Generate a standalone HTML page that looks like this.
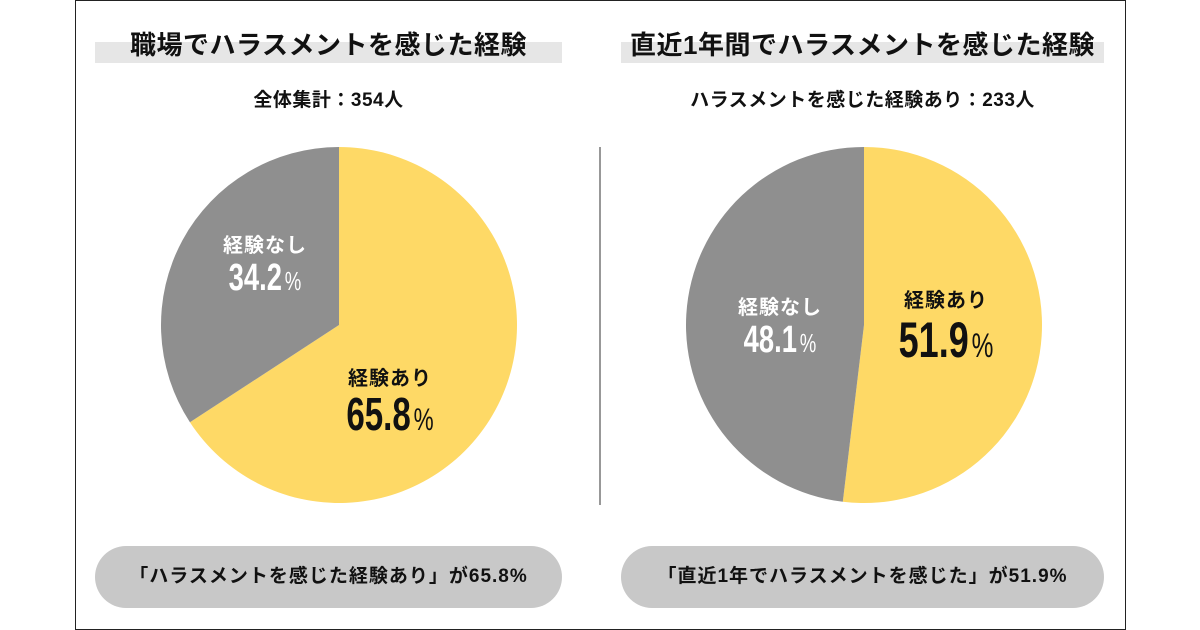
<!DOCTYPE html>
<html><head><meta charset="utf-8"><style>
html,body{margin:0;padding:0;background:#fff;}
body{width:1200px;height:630px;position:relative;overflow:hidden;font-family:"Liberation Sans","Noto Sans CJK JP",sans-serif;}
.frame{position:absolute;left:75px;top:0;width:1049px;height:628px;border:1px solid #222;}
.band{position:absolute;height:21px;background:#e6e6e6;}
.title{position:absolute;font-weight:bold;font-size:26px;color:#111;text-align:center;letter-spacing:0.5px;}
.sub{position:absolute;font-weight:bold;font-size:19px;color:#111;text-align:center;letter-spacing:0.5px;}
.pill{position:absolute;top:546px;height:62px;border-radius:31px;background:#c8c8c8;font-weight:bold;font-size:19px;color:#111;text-align:center;line-height:62px;letter-spacing:1px;}
svg{position:absolute;left:0;top:0;}
</style></head><body>
<div class="frame"></div>
<div class="band" style="left:95px;top:42px;width:467px"></div>
<div class="band" style="left:621px;top:42px;width:483px"></div>
<div class="title" style="left:95px;width:467px;top:25px">職場でハラスメントを感じた経験</div>
<div class="title" style="left:621px;width:483px;top:25px">直近1年間でハラスメントを感じた経験</div>
<div class="sub" style="left:95px;width:467px;top:85px">全体集計：354人</div>
<div class="sub" style="left:621px;width:483px;top:85px">ハラスメントを感じた経験あり：233人</div>
<div class="pill" style="left:95px;width:467px">「ハラスメントを感じた経験あり」が65.8%</div>
<div class="pill" style="left:621px;width:483px">「直近1年でハラスメントを感じた」が51.9%</div>
<svg id="chart" width="1200" height="630">
<line x1="600" y1="147" x2="600" y2="505" stroke="#777" stroke-width="1.5"/>
</svg>
<script>
const categories=["経験あり","経験なし"];
const leftValues=[65.8,34.2];
const rightValues=[51.9,48.1];
const colors=["#fed966","#8f8f8f"];
const svg=document.getElementById('chart');
const NS='http://www.w3.org/2000/svg';
function pt(cx,cy,r,f){const a=f*2*Math.PI;return [cx+r*Math.sin(a),cy-r*Math.cos(a)];}
function pie(cx,cy,r,vals,name,labelCfg){
  const tot=vals.reduce((a,b)=>a+b,0);let acc=0;
  vals.forEach((v,i)=>{
    const f0=acc/tot,f1=(acc+v)/tot;acc+=v;
    const p0=pt(cx,cy,r,f0),p1=pt(cx,cy,r,f1);
    const path=document.createElementNS(NS,'path');
    path.setAttribute('d',`M${cx},${cy}L${p0[0]},${p0[1]}A${r},${r} 0 ${f1-f0>0.5?1:0} 1 ${p1[0]},${p1[1]}Z`);
    path.setAttribute('fill',colors[i]);
    
    
    svg.appendChild(path);
    const c=labelCfg[i];
    const t=document.createElementNS(NS,'text');
    t.setAttribute('x',c.x);t.setAttribute('y',c.y);t.setAttribute('text-anchor','middle');
    t.setAttribute('font-size','20');t.setAttribute('font-weight','bold');
    t.setAttribute('letter-spacing','1');
    t.setAttribute('fill',i===0?'#111':'#fff');
    t.setAttribute('font-family','"Liberation Sans","Noto Sans CJK JP",sans-serif');
    t.textContent=categories[i];
    
    
    svg.appendChild(t);
    const g=document.createElementNS(NS,'g');
    g.setAttribute('transform',`translate(${c.x},${c.y+c.dy}) scale(0.72,1)`);
    const n=document.createElementNS(NS,'text');
    n.setAttribute('x',0);n.setAttribute('y',0);n.setAttribute('text-anchor','middle');
    n.setAttribute('font-size',c.fs);n.setAttribute('font-weight','bold');
    n.setAttribute('fill',i===0?'#111':'#fff');
    n.setAttribute('font-family','"Liberation Sans",sans-serif');
    n.innerHTML=v.toFixed(1)+'<tspan dx="4" font-size="'+(c.fs*0.68)+'" font-weight="normal">%</tspan>';
    
    
    g.appendChild(n);svg.appendChild(g);
  });
}
pie(339,325,178,leftValues,'left-pie',[{x:390,y:385,dy:45,fs:46},{x:265,y:252,dy:38,fs:38}]);
pie(864,325,178,rightValues,'right-pie',[{x:946,y:307,dy:50,fs:50},{x:780,y:314,dy:38,fs:38}]);
</script>
</body></html>
